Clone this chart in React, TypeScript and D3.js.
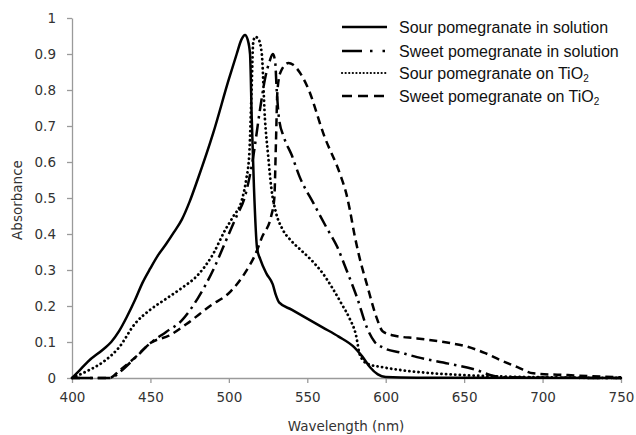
import React, { useEffect, useRef } from "react";
import * as d3 from "d3";

// absorbance spectra, [wavelength nm, absorbance]
const sourSolution: [number, number][] = [
  [400, 0], [405, 0.022], [410, 0.045], [420, 0.08], [425, 0.1], [430, 0.13],
  [435, 0.17], [440, 0.215], [445, 0.265], [450, 0.305], [455, 0.342], [460, 0.372],
  [465, 0.405], [470, 0.44], [475, 0.49], [480, 0.55], [490, 0.68], [500, 0.83],
  [505, 0.9], [508, 0.94], [510.3, 0.953], [512, 0.94], [513.5, 0.9], [514.6, 0.72],
  [516, 0.53], [518, 0.36], [520, 0.33], [524, 0.29], [528, 0.26], [530, 0.23],
  [532, 0.21], [540, 0.19], [550, 0.165], [560, 0.14], [570, 0.115], [580, 0.085],
  [585, 0.06], [590, 0.03], [595, 0.01], [600, 0.003], [620, 0.001], [750, 0],
];

const sweetSolution: [number, number][] = [
  [400, 0], [425, 0], [430, 0.015], [440, 0.055], [450, 0.097], [460, 0.128],
  [470, 0.16], [480, 0.22], [490, 0.3], [498, 0.38], [505, 0.45], [510, 0.5],
  [515, 0.6], [520, 0.75], [523, 0.83], [526, 0.88], [528, 0.9], [529.5, 0.88],
  [530.5, 0.8], [532, 0.72], [535, 0.67], [540, 0.62], [545, 0.56], [554, 0.485],
  [562, 0.42], [569, 0.365], [575, 0.3], [582, 0.22], [588, 0.14], [593, 0.1],
  [598, 0.085], [610, 0.07], [620, 0.058], [640, 0.04], [658, 0.022], [667, 0.008],
  [675, 0.002], [750, 0],
];

const sourTiO2: [number, number][] = [
  [400, 0], [410, 0.02], [420, 0.045], [430, 0.085], [440, 0.15], [450, 0.19],
  [460, 0.22], [470, 0.25], [480, 0.285], [490, 0.345], [497.5, 0.41], [503, 0.45],
  [508, 0.49], [511, 0.55], [513, 0.62], [514.5, 0.8], [515.5, 0.93], [516.7, 0.948],
  [519, 0.94], [521, 0.9], [523, 0.72], [525, 0.62], [527, 0.53], [530, 0.46],
  [534, 0.415], [540, 0.38], [546, 0.355], [552, 0.33], [560, 0.29], [566, 0.25],
  [572, 0.205], [577, 0.165], [581, 0.12], [583.5, 0.065], [588, 0.04], [598, 0.03],
  [620, 0.017], [650, 0.008], [685, 0.003], [750, 0],
];

const sweetTiO2: [number, number][] = [
  [400, 0], [424, 0], [430, 0.02], [441, 0.06], [450, 0.097], [462, 0.118],
  [473, 0.15], [488, 0.2], [501, 0.24], [510, 0.29], [518, 0.355], [521, 0.39],
  [527, 0.45], [529, 0.5], [530, 0.65], [531, 0.8], [533, 0.85], [538, 0.875],
  [541, 0.87], [545, 0.85], [550, 0.81], [561, 0.67], [571, 0.565], [575, 0.51],
  [577, 0.47], [580, 0.4], [583, 0.34], [588, 0.26], [594, 0.17], [598, 0.13],
  [605, 0.118], [620, 0.11], [640, 0.098], [652, 0.087], [663, 0.07], [673, 0.05],
  [684, 0.03], [694, 0.013], [716, 0.008], [737, 0.004], [750, 0.002],
];

const seriesNames = [
  "Sour pomegranate in solution",
  "Sweet pomegranate in solution",
  "Sour pomegranate on ",
  "Sweet pomegranate on ",
];
const seriesData = [sourSolution, sweetSolution, sourTiO2, sweetTiO2];
const seriesDash = ["none", "13,5,2.5,5", "0.1,4.5", "8,5"];
const legendDash = ["none", "20,8,2.5,10,2.5,20", "0.1,3.5", "10,6"];
const xTicks = [400, 450, 500, 550, 600, 650, 700, 750];
const yTicks = [0, 0.1, 0.2, 0.3, 0.4, 0.5, 0.6, 0.7, 0.8, 0.9, 1];

export default function App() {
  const ref = useRef<SVGSVGElement>(null);

  useEffect(() => {
    const svg = d3.select(ref.current);
    svg.selectAll("*").remove();

    const x = d3.scaleLinear().domain([400, 750]).range([72, 621]);
    const y = d3.scaleLinear().domain([0, 1]).range([378, 18]);
    const axisColor = "#9a9a9a";
    const textColor = "#333";
    const tickFont = "DejaVu Sans, Verdana, sans-serif";

    const xAxis = svg
      .append("g")
      .attr("transform", "translate(0,378)")
      .call(
        d3.axisBottom(x).tickValues(xTicks).tickSize(5).tickSizeOuter(0).tickPadding(9)
          .tickFormat(d3.format("d"))
      );
    const yAxis = svg
      .append("g")
      .attr("transform", "translate(72,0)")
      .call(
        d3.axisLeft(y).tickValues(yTicks).tickSize(5).tickSizeOuter(0).tickPadding(11)
          .tickFormat((d) => String(d))
      );
    [xAxis, yAxis].forEach((g) => {
      g.select(".domain").attr("stroke", axisColor).attr("stroke-width", 1.3);
      g.selectAll(".tick line").attr("stroke", axisColor).attr("stroke-width", 1.3);
      g.selectAll(".tick text")
        .attr("fill", textColor)
        .style("font-family", tickFont)
        .style("font-size", "13.5px");
    });

    svg
      .append("text")
      .attr("x", 346)
      .attr("y", 431)
      .attr("text-anchor", "middle")
      .attr("fill", textColor)
      .style("font-family", tickFont)
      .style("font-size", "13.5px")
      .text("Wavelength (nm)");
    svg
      .append("text")
      .attr("transform", "translate(22,200) rotate(-90)")
      .attr("text-anchor", "middle")
      .attr("fill", textColor)
      .style("font-family", tickFont)
      .style("font-size", "13.5px")
      .text("Absorbance");

    const line = d3
      .line<[number, number]>()
      .x((d) => x(d[0]))
      .y((d) => y(d[1]))
      .curve(d3.curveMonotoneX);

    seriesData.forEach((data, i) => {
      svg
        .append("path")
        .attr("d", line(data))
        .attr("fill", "none")
        .attr("stroke", "#000")
        .attr("stroke-width", i === 2 ? 2.8 : 2.5)
        .attr("stroke-dasharray", seriesDash[i])
        .attr("stroke-linecap", i === 2 ? "round" : "butt");
    });

    // legend
    const legendY = [27, 51, 73, 96];
    const legend = svg.append("g");
    seriesNames.forEach((name, i) => {
      legend
        .append("line")
        .attr("x1", 342)
        .attr("x2", 387)
        .attr("y1", legendY[i])
        .attr("y2", legendY[i])
        .attr("stroke", "#000")
        .attr("stroke-width", i === 2 ? 2.2 : 2.5)
        .attr("stroke-linecap", i === 2 ? "round" : "butt")
        .attr("stroke-dasharray", legendDash[i]);
      const t = legend
        .append("text")
        .attr("x", 399)
        .attr("y", legendY[i] + 5.5)
        .attr("fill", "#111")
        .style("font-family", "Liberation Sans, Arial, sans-serif")
        .style("font-size", "16px")
        .text(name);
      if (i >= 2) {
        t.append("tspan").text("TiO");
        t.append("tspan").attr("dy", 3).style("font-size", "10px").text("2");
      }
    });
  }, []);

  return (
    <svg
      ref={ref}
      width={636}
      height={435}
      style={{ position: "absolute", left: 0, top: 0, background: "#fff" }}
    />
  );
}
